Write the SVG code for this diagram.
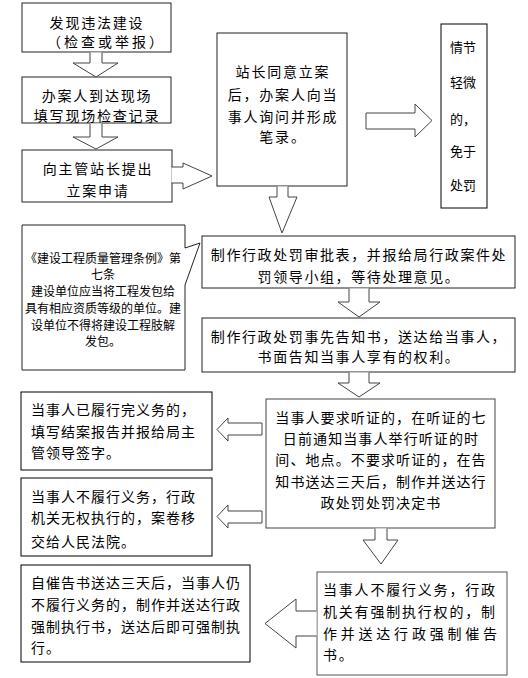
<svg xmlns="http://www.w3.org/2000/svg" width="528" height="678" viewBox="0 0 528 678">
<style>
.box{fill:#fff;stroke:#222;stroke-width:1}
.arr{fill:#fff;stroke:#444;stroke-width:1;stroke-linejoin:miter}
text{font-family:"Noto Sans CJK SC","Liberation Sans",sans-serif;font-size:14px;fill:#000}
.c{text-anchor:middle}
.s1{letter-spacing:1.8px}
.s2{letter-spacing:1.6px}
.s3{letter-spacing:1.1px}
.s4{letter-spacing:1px}
.sm{font-size:12px}
.v{font-size:13px}
</style>
<rect width="528" height="678" fill="#fff"/>
<g id="n1"><rect class="box" x="22" y="3" width="149" height="49"/>
<text class="c s1" x="97" y="27.5">发现违法建设</text>
<text x="47" y="47" style="letter-spacing:3px">（检查或举报）</text></g>
<g id="n2"><rect class="box" x="22" y="77" width="149" height="46"/>
<text class="c s1" x="97" y="101">办案人到达现场</text>
<text class="c s1" x="97" y="121">填写现场检查记录</text></g>
<g id="n3"><rect class="box" x="22" y="150" width="150" height="52"/>
<text class="c s1" x="98" y="174">向主管站长提出</text>
<text class="c s1" x="98" y="196">立案申请</text></g>
<g id="n4"><rect class="box" x="217" y="33" width="130" height="153"/>
<text class="c s1" x="283" y="77">站长同意立案</text>
<text class="c s1" x="283" y="100">后，办案人向当</text>
<text class="c s1" x="283" y="122">事人询问并形成</text>
<text class="c s1" x="283" y="142">笔录。</text></g>
<g id="n5"><rect class="box" style="stroke:#000" x="441" y="24" width="46" height="184"/>
<text class="v" x="450" y="52">情节</text>
<text class="v" x="450" y="87">轻微</text>
<text class="v" x="450" y="124">的，</text>
<text class="v" x="450" y="156">免于</text>
<text class="v" x="450" y="190">处罚</text></g>
<g id="note"><path class="box" d="M22,225 H185 V248 L200,243 L185,285 V370 H22 Z"/>
<text class="c sm" x="103" y="263">《建设工程质量管理条例》第</text>
<text class="c sm" x="103" y="279">七条</text>
<text class="c sm" x="103" y="296">建设单位应当将工程发包给</text>
<text class="c sm" x="103" y="313">具有相应资质等级的单位。建</text>
<text class="c sm" x="103" y="330">设单位不得将建设工程肢解</text>
<text class="c sm" x="103" y="346">发包。</text></g>
<g id="n6"><rect class="box" x="202" y="236" width="313" height="52"/>
<text class="c s2" x="359" y="260">制作行政处罚审批表，并报给局行政案件处</text>
<text class="c s2" x="359" y="282">罚领导小组，等待处理意见。</text></g>
<g id="n7"><rect class="box" x="202" y="318" width="313" height="54"/>
<text class="c s2" x="359" y="342">制作行政处罚事先告知书，送达给当事人，</text>
<text class="c s2" x="359" y="362">书面告知当事人享有的权利。</text></g>
<g id="n8"><rect class="box" style="stroke:#444" x="266" y="399" width="229" height="129"/>
<text class="c s3" x="381" y="423">当事人要求听证的，在听证的七</text>
<text class="c s3" x="381" y="444">日前通知当事人举行听证的时</text>
<text class="c s3" x="381" y="465">间、地点。不要求听证的，在告</text>
<text class="c s3" x="381" y="487">知书送达三天后，制作并送达行</text>
<text class="c s3" x="381" y="508">政处罚处罚决定书</text></g>
<g id="n9"><rect class="box" style="stroke:#000" x="21" y="392" width="191" height="78"/>
<text class="s4" x="31" y="415">当事人已履行完义务的，</text>
<text class="s4" x="31" y="437">填写结案报告并报给局主</text>
<text class="s4" x="31" y="458">管领导签字。</text></g>
<g id="n10"><rect class="box" style="stroke:#000" x="21" y="478" width="191" height="78"/>
<text class="s4" x="31" y="502">当事人不履行义务，行政</text>
<text class="s4" x="31" y="523">机关无权执行的，案卷移</text>
<text class="s4" x="31" y="547">交给人民法院。</text></g>
<g id="n11"><rect class="box" style="stroke:#555" x="317" y="572" width="190" height="103"/>
<text class="s1" x="323" y="595">当事人不履行义务，行政</text>
<text class="s1" x="323" y="617">机关有强制执行权的，制</text>
<text x="323" y="639" textLength="174" lengthAdjust="spacing">作并送达行政强制催告</text>
<text class="s1" x="323" y="660">书。</text></g>
<g id="n12"><rect class="box" style="stroke:#000" x="21" y="565" width="229" height="97"/>
<text class="s4" x="31" y="588">自催告书送达三天后，当事人仍</text>
<text class="s4" x="31" y="610">不履行义务的，制作并送达行政</text>
<text class="s4" x="31" y="632">强制执行书，送达后即可强制执</text>
<text class="s4" x="31" y="653">行。</text></g>
<g id="connectors">
<path class="arr" d="M90,52.5 V63 H73 L96,77 L118,63 H102 V52.5"/>
<path class="arr" d="M90,123.5 V137 H73 L96,149 L118,137 H102 V123.5"/>
<path class="arr" d="M171.5,167 H183 V163 L212,176 L183,189 V183 H171.5"/>
<path class="arr" d="M366,113 H415 V104 L432,120.5 L415,137 V129 H366 Z"/>
<path class="arr" d="M277,186.5 V197 H269 L282,233 L297,197 H288 V186.5"/>
<path class="arr" d="M349,288.5 V302 H338 L359,317 L380,302 H369 V288.5"/>
<path class="arr" d="M349,372.5 V383 H338 L359,397 L380,383 H369 V372.5"/>
<path class="arr" d="M262,423 H228 V418 L217,429.5 L228,441 V435 H262 Z"/>
<path class="arr" d="M262,511 H228 V505 L217,516.5 L228,528 V523 H262 Z"/>
<path class="arr" d="M375,528.5 V540 H363 L381,564 L398,540 H387 V528.5"/>
<path class="arr" d="M316.5,611 H296 V599 L265,623.5 L296,648 V636 H316.5"/>
</g>
</svg>
